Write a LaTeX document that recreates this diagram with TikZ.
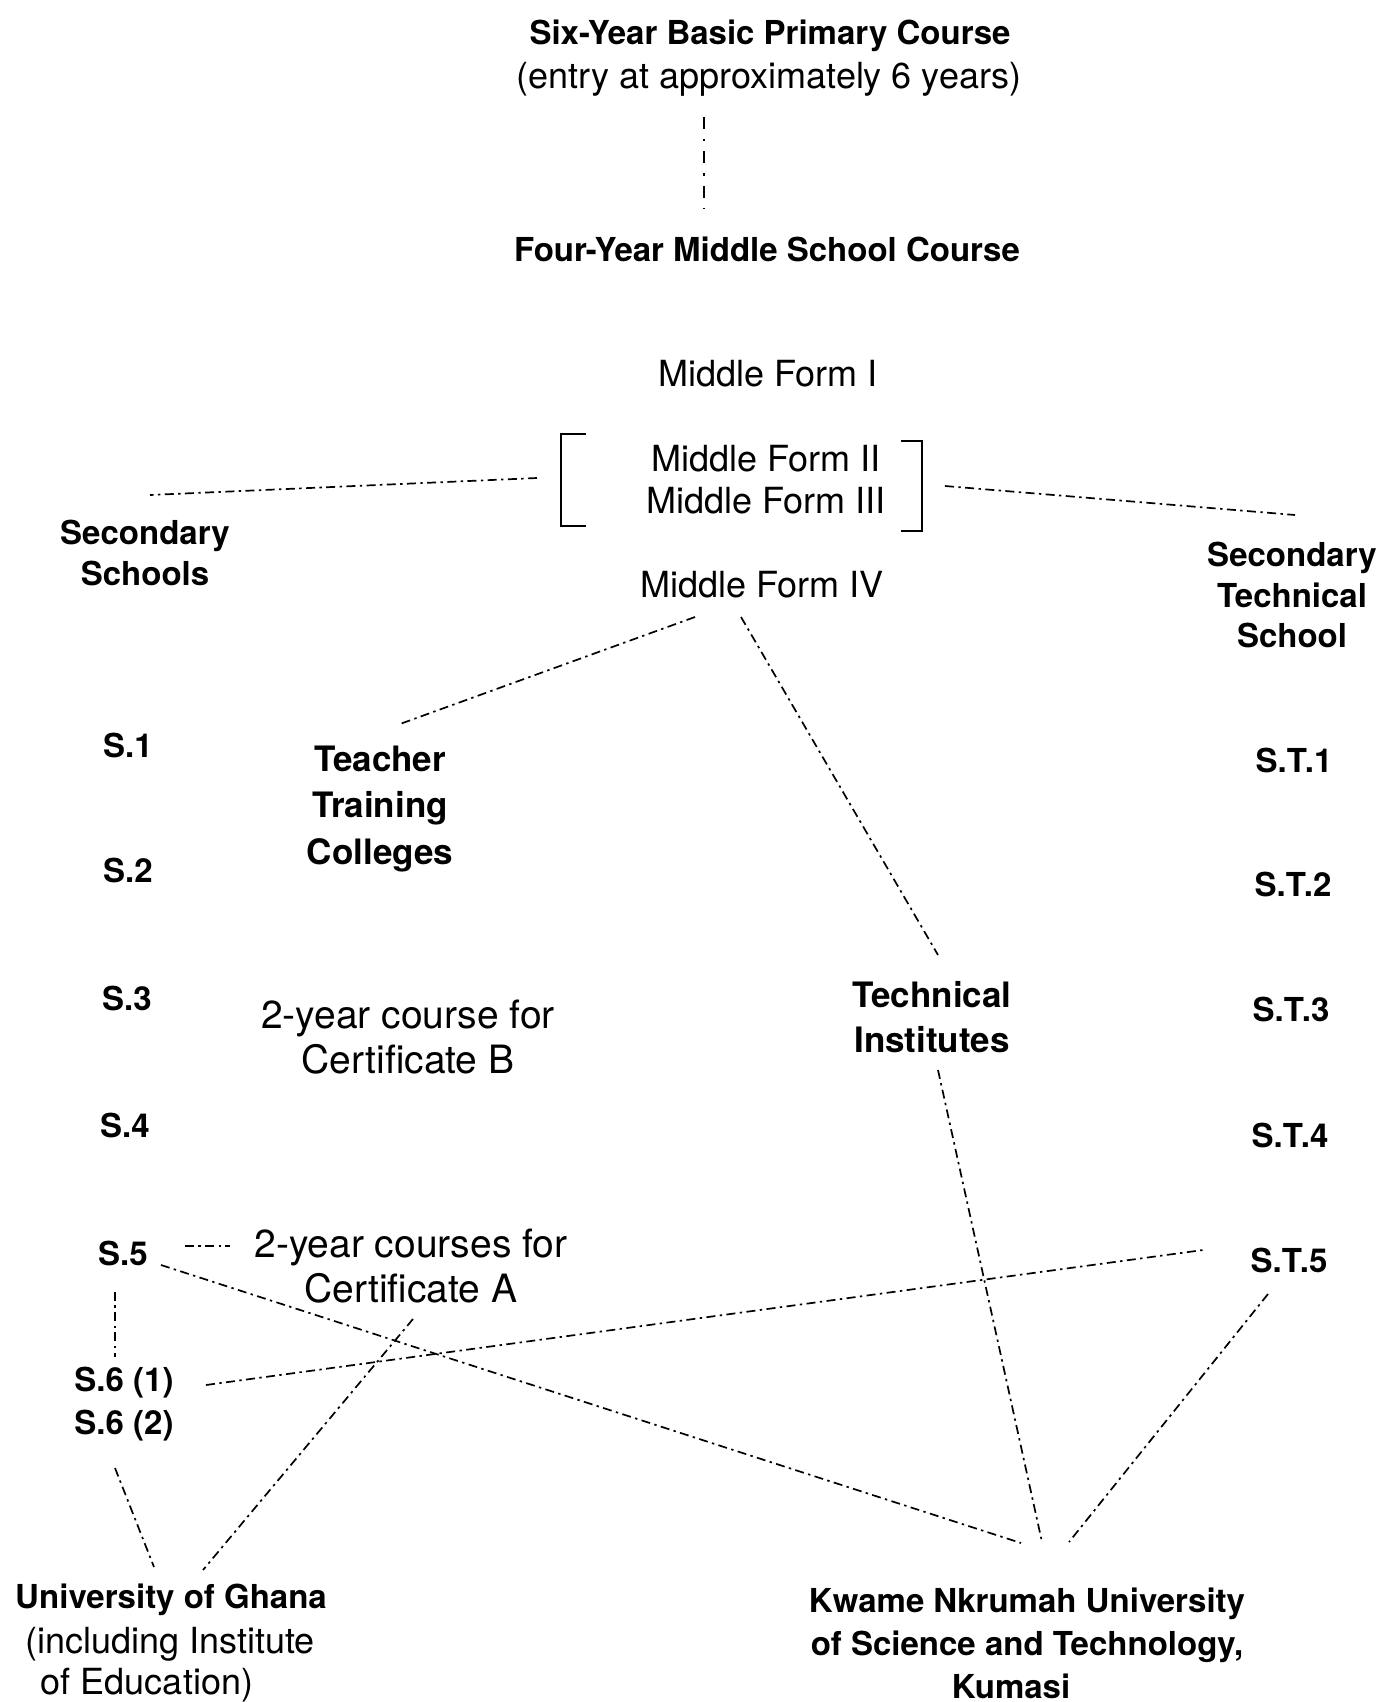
\documentclass[tikz,border=0pt]{standalone}
\usepackage{fontspec}
\setmainfont{TeX Gyre Heros}
\begin{document}
\begin{tikzpicture}[x=0.5pt,y=-0.5pt,
  every node/.style={inner sep=0pt, align=center},
  hbold/.style={font=\fontsize{16.5}{20.5}\selectfont\bfseries},
  hboldbig/.style={font=\fontsize{17.5}{22.5}\selectfont\bfseries},
  plain/.style={font=\fontsize{18}{21}\selectfont},
  plainbig/.style={font=\fontsize{19.5}{22.8}\selectfont},
  link/.style={line width=0.85pt, dash pattern=on 4.5pt off 2.2pt on 1.2pt off 2.2pt},
  longlink/.style={line width=0.9pt, dash pattern=on 6pt off 5pt on 1.2pt off 5pt},
  bracket/.style={line width=1pt}]
\useasboundingbox (0,0) rectangle (1380,1702);

% primary and middle school
\node[hbold]  (six)   at (770,36)  {Six-Year Basic Primary Course};
\node[plain]  (entry) at (769,79)  {(entry at approximately 6 years)};
\node[hbold]  (four)  at (767,249) {Four-Year Middle School Course};
\node[plain]  (mf1)   at (768,374) {Middle Form I};
\node[plain, font=\fontsize{18}{21}\selectfont] (mf23) at (766,480) {Middle Form II\\Middle Form III};
\node[plain]  (mf4)   at (762,585) {Middle Form IV};

% brackets round forms II and III
\draw[bracket] ([shift={(-180,-46)}]mf23.center) -- ([shift={(-205,-46)}]mf23.center)
  -- ([shift={(-205,46)}]mf23.center) -- ([shift={(-180,46)}]mf23.center);
\draw[bracket] ([shift={(135,-39)}]mf23.center) -- ([shift={(156,-39)}]mf23.center)
  -- ([shift={(156,51)}]mf23.center) -- ([shift={(135,51)}]mf23.center);

% secondary schools
\node[hbold, font=\fontsize{16.5}{20.5}\selectfont\bfseries] (sec) at (145,553) {Secondary\\Schools};
\node[hbold] (s1)  at (128,745)  {S.1};
\node[hbold] (s2)  at (128,870)  {S.2};
\node[hbold] (s3)  at (127,998)  {S.3};
\node[hbold] (s4)  at (125,1125) {S.4};
\node[hbold] (s5)  at (123,1253) {S.5};
\node[hbold] (s61) at (124,1383) {S.6 (1)};
\node[hbold] (s62) at (124,1426) {S.6 (2)};

% secondary technical school
\node[hbold, font=\fontsize{16.5}{20.3}\selectfont\bfseries] (sect) at (1292,595) {Secondary\\Technical\\School};
\node[hbold] (st1) at (1294,760)  {S.T.1};
\node[hbold] (st2) at (1293,884)  {S.T.2};
\node[hbold] (st3) at (1291,1009) {S.T.3};
\node[hbold] (st4) at (1290,1135) {S.T.4};
\node[hbold] (st5) at (1289,1260) {S.T.5};

% colleges and institutes
\node[hboldbig, font=\fontsize{17.5}{23.3}\selectfont\bfseries] (teacher) at (380,809) {Teacher\\Training\\Colleges};
\node[plainbig] (certB) at (408,1037) {2-year course for\\Certificate B};
\node[plainbig] (certA) at (411,1266) {2-year courses for\\Certificate A};
\node[hboldbig, font=\fontsize{17.5}{22.3}\selectfont\bfseries] (techinst) at (932,1017) {Technical\\Institutes};

% universities
\node[hbold] (univ) at (171,1600) {University of Ghana};
\node[plain, font=\fontsize{18}{20.5}\selectfont] (univsub) at (170,1665) {(including Institute\\of Education)\hspace*{23pt}};
\node[hbold, font=\fontsize{16.5}{21.5}\selectfont\bfseries] (knust) at (1027,1643)
  {Kwame Nkrumah University\\of Science and Technology,\\Kumasi\hspace*{16pt}};

% connections
\draw[longlink] ([shift={(-65,38)}]entry.center) -- ([shift={(-63,-41)}]four.center);
\draw[link] ([shift={(-229,-2)}]mf23.center) -- ([shift={(5,-58)}]sec.center);
\draw[link] ([shift={(179,6)}]mf23.center) -- ([shift={(3,-80)}]sect.center);
\draw[link] ([shift={(-67,32)}]mf4.center) -- ([shift={(20,-85)}]teacher.center);
\draw[link] ([shift={(-21,32)}]mf4.center) -- ([shift={(6,-62)}]techinst.center);
\draw[link] ([shift={(62,-7)}]s5.center) -- ([shift={(-181,-20)}]certA.center);
\draw[link] ([shift={(-8,39)}]s5.center) -- ([shift={(-9,-26)}]s61.center);
\draw[link] ([shift={(38,12)}]s5.center) -- ([shift={(-6,-100)}]knust.center);
\draw[link] ([shift={(2,53)}]certA.center) -- ([shift={(32,-30)}]univ.center);
\draw[link] ([shift={(82,2)}]s61.center) -- ([shift={(-86,-10)}]st5.center);
\draw[link] ([shift={(-9,42)}]s62.center) -- ([shift={(-17,-33)}]univ.center);
\draw[link] ([shift={(6,53)}]techinst.center) -- ([shift={(15,-101)}]knust.center);
\draw[link] ([shift={(-21,34)}]st5.center) -- ([shift={(42,-101)}]knust.center);
\end{tikzpicture}
\end{document}
